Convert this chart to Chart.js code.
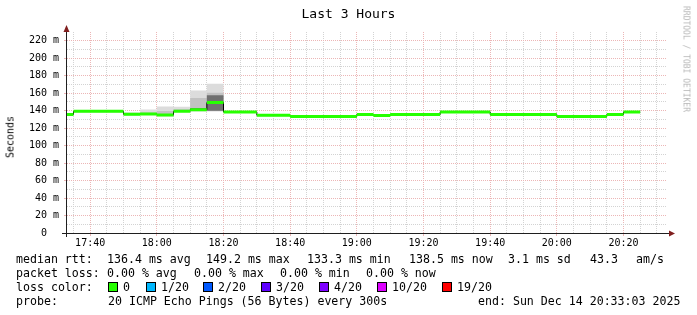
<!DOCTYPE html>
<html>
<head>
<meta charset="utf-8">
<script src="https://cdn.jsdelivr.net/npm/chart.js@4.4.1/dist/chart.umd.min.js"></script>
<style>
  body { margin: 0; background: #fff; }
  #wrap { position: relative; width: 697px; height: 315px; overflow: hidden;
          font-family: 'DejaVu Sans Mono', monospace; color: #000; }
  #wrap canvas { position: absolute; left: 0; top: 0; }
  #title { position: absolute; left: 0; top: 6px; width: 697px; text-align: center; font-size: 13px; }
  #ylab { position: absolute; left: 10px; top: 137px; font-size: 10px; white-space: nowrap;
          transform: translate(-50%, -50%) rotate(-90deg); }
  #wm { position: absolute; left: 686px; top: 59px; font-size: 8px; color: #b8b8b8; white-space: nowrap;
        transform: translate(-50%, -50%) rotate(90deg); }
  .t { position: absolute; white-space: pre; font-size: 11.6px; line-height: 14px; }
  .box { position: absolute; width: 8px; height: 8px; border: 1px solid #000; }
</style>
</head>
<body>
<div id="wrap">
  <canvas id="rtt" width="697" height="315"></canvas>
  <div id="title">Last 3 Hours</div>
  <div id="ylab">Seconds</div>
  <div id="wm">RRDTOOL / TOBI OETIKER</div>
  <div id="legend"></div>
</div>
<script>
// --- data (5 minute buckets) ---
const bucketTimes = ['17:30', '17:35', '17:40', '17:45', '17:50', '17:55', '18:00', '18:05', '18:10', '18:15',
                     '18:20', '18:25', '18:30', '18:35', '18:40', '18:45', '18:50', '18:55', '19:00', '19:05',
                     '19:10', '19:15', '19:20', '19:25', '19:30', '19:35', '19:40', '19:45', '19:50', '19:55',
                     '20:00', '20:05', '20:10', '20:15', '20:20'];
const medianRtt = [135.6, 139.2, 139.2, 139.2, 135.8, 136.3, 134.9, 139.2, 141.0, 149.2,
                   138.5, 138.5, 134.7, 134.7, 133.4, 133.4, 133.4, 133.4, 135.6, 134.5,
                   135.6, 135.6, 135.6, 138.6, 138.6, 138.6, 135.6, 135.6, 135.6, 135.6,
                   133.4, 133.4, 133.4, 135.6, 138.5];
// smoke: spread of the 20 pings (outer = min..max, mid and core = inner percentiles)
const smokeTop    = [136.6, 140.2, 140.2, 140.2, 137.8, 141.2, 144.8, 144.5, 163.0, 170.8,
                     139.5, 139.5, 135.7, 135.7, 134.4, 134.4, 134.4, 134.4, 136.6, 135.5,
                     136.6, 136.6, 136.6, 139.6, 139.6, 139.6, 136.6, 136.6, 136.6, 136.6,
                     134.4, 134.4, 134.4, 136.6, 139.5];
const smokeBottom = [134.6, 138.2, 138.2, 138.2, 134.5, 135.0, 133.5, 138.5, 139.0, 139.0,
                     137.5, 137.5, 133.7, 133.7, 132.4, 132.4, 132.4, 132.4, 134.6, 133.5,
                     134.6, 134.6, 134.6, 137.6, 137.6, 137.6, 134.6, 134.6, 134.6, 134.6,
                     132.4, 132.4, 132.4, 134.6, 137.5];
const smokeMidTop    = [135.6, 139.2, 139.2, 139.2, 135.8, 138.0, 139.5, 141.5, 154.5, 160.5,
                        138.5, 138.5, 134.7, 134.7, 133.4, 133.4, 133.4, 133.4, 135.6, 134.5,
                        135.6, 135.6, 135.6, 138.6, 138.6, 138.6, 135.6, 135.6, 135.6, 135.6,
                        133.4, 133.4, 133.4, 135.6, 138.5];
const smokeMidBottom = [135.6, 139.2, 139.2, 139.2, 135.8, 135.5, 134.0, 138.5, 139.5, 139.5,
                        138.5, 138.5, 134.7, 134.7, 133.4, 133.4, 133.4, 133.4, 135.6, 134.5,
                        135.6, 135.6, 135.6, 138.6, 138.6, 138.6, 135.6, 135.6, 135.6, 135.6,
                        133.4, 133.4, 133.4, 135.6, 138.5];
const smokeCoreTop    = [135.6, 139.2, 139.2, 139.2, 135.8, 136.3, 134.9, 139.2, 143.0, 157.5,
                         138.5, 138.5, 134.7, 134.7, 133.4, 133.4, 133.4, 133.4, 135.6, 134.5,
                         135.6, 135.6, 135.6, 138.6, 138.6, 138.6, 135.6, 135.6, 135.6, 135.6,
                         133.4, 133.4, 133.4, 135.6, 138.5];
const smokeCoreBottom = [135.6, 139.2, 139.2, 139.2, 135.8, 136.3, 134.9, 139.2, 140.5, 140.0,
                         138.5, 138.5, 134.7, 134.7, 133.4, 133.4, 133.4, 133.4, 135.6, 134.5,
                         135.6, 135.6, 135.6, 138.6, 138.6, 138.6, 135.6, 135.6, 135.6, 135.6,
                         133.4, 133.4, 133.4, 135.6, 138.5];

const yTickValues = [0, 20, 40, 60, 80, 100, 120, 140, 160, 180, 200, 220];
const xTickLabels = ['17:40', '18:00', '18:20', '18:40', '19:00', '19:20', '19:40', '20:00', '20:20'];
const startTime = '17:33:03';
const endTime = '20:33:03';

const rttStats = [['136.4', 'ms avg'], ['149.2', 'ms max'], ['133.3', 'ms min'], ['138.5', 'ms now'], ['3.1', 'ms sd'], ['43.3', ''], ['', 'am/s']];
const lossStats = [['0.00', '% avg'], ['0.00', '% max'], ['0.00', '% min'], ['0.00', '% now']];
const lossLabels = ['0', '1/20', '2/20', '3/20', '4/20', '10/20', '19/20'];
const lossColors = ['#26ff00', '#00b8ff', '#0059ff', '#5e00ff', '#7e00ff', '#dd00ff', '#ff0000'];
const probeText = '20 ICMP Echo Pings (56 Bytes) every 300s';
const endText = 'end: Sun Dec 14 20:33:03 2025';

// --- helpers ---
function toMin(s) {
    const p = s.split(':').map(Number);
    return p[0] * 60 + p[1] + (p[2] || 0) / 60;
}
const STEP = 5;

function stepData(values) {
    const pts = values.map((v, i) => ({ x: toMin(bucketTimes[i]), y: v }));
    pts.push({ x: toMin(bucketTimes[bucketTimes.length - 1]) + STEP, y: values[values.length - 1] });
    return pts;
}
// separate horizontal pieces (no vertical joins) for the coloured median line
function segmentData(values) {
    const pts = [];
    values.forEach((v, i) => {
        const s = toMin(bucketTimes[i]);
        pts.push({ x: s, y: v }, { x: s + STEP, y: v }, { x: s + STEP, y: null });
    });
    return pts;
}

const MINOR = '#d3d3d3';
const MAJOR = '#ecb6b6';
const xMajor = xTickLabels.map(toMin);

function band(values, color, fill) {
    return {
        data: stepData(values),
        stepped: true,
        borderColor: 'transparent',
        borderWidth: 0,
        backgroundColor: color,
        fill: fill ? '-1' : false,
        pointRadius: 0
    };
}

// axis lines and arrows drawn the rrdtool way
const axisArrows = {
    id: 'axisArrows',
    afterDraw(chart) {
        const { ctx, chartArea: a } = chart;
        ctx.save();
        ctx.strokeStyle = '#1f1f1f';
        ctx.lineWidth = 1;
        ctx.beginPath();
        ctx.moveTo(a.left - 0.5, a.bottom + 4);
        ctx.lineTo(a.left - 0.5, a.top - 1);
        ctx.moveTo(a.left - 5, a.bottom + 0.5);
        ctx.lineTo(a.right + 3, a.bottom + 0.5);
        ctx.stroke();
        ctx.fillStyle = '#801f1f';
        ctx.beginPath();
        ctx.moveTo(a.left - 0.5, a.top - 7);
        ctx.lineTo(a.left - 3.5, a.top);
        ctx.lineTo(a.left + 2.5, a.top);
        ctx.closePath();
        ctx.fill();
        ctx.beginPath();
        ctx.moveTo(a.right + 8, a.bottom + 0.5);
        ctx.lineTo(a.right + 2, a.bottom - 2.5);
        ctx.lineTo(a.right + 2, a.bottom + 3.5);
        ctx.closePath();
        ctx.fill();
        ctx.restore();
    }
};

new Chart(document.getElementById('rtt'), {
    type: 'line',
    data: {
        datasets: [
            { data: segmentData(medianRtt), borderColor: lossColors[0], borderWidth: 3, borderCapStyle: 'butt',
              pointRadius: 0, fill: false, spanGaps: false },
            { data: stepData(medianRtt), stepped: true, borderColor: '#000', borderWidth: 1, pointRadius: 0, fill: false },
            band(smokeCoreTop, '#707070', false),
            band(smokeCoreBottom, '#707070', true),
            band(smokeMidTop, '#c2c2c2', false),
            band(smokeMidBottom, '#c2c2c2', true),
            band(smokeTop, '#dcdcdc', false),
            band(smokeBottom, '#dcdcdc', true)
        ]
    },
    options: {
        responsive: false,
        animation: false,
        events: [],
        devicePixelRatio: 1,
        layout: { padding: { left: 0, top: 32, right: 30, bottom: 62 } },
        plugins: { legend: { display: false }, tooltip: { enabled: false } },
        scales: {
            x: {
                type: 'linear',
                min: toMin(startTime),
                max: toMin(endTime),
                afterBuildTicks: s => {
                    const t = [];
                    for (let m = Math.ceil(s.min / STEP) * STEP; m <= s.max; m += STEP) t.push({ value: m });
                    s.ticks = t;
                },
                afterFit: s => { s.height = 20; },
                ticks: {
                    autoSkip: false, maxRotation: 0, padding: 1, color: '#000',
                    font: { family: 'DejaVu Sans Mono', size: 10 },
                    callback: v => {
                        const i = xMajor.indexOf(v);
                        return i >= 0 ? xTickLabels[i] : '';
                    }
                },
                grid: {
                    color: c => (c.tick && xMajor.includes(c.tick.value)) ? MAJOR : MINOR,
                    tickColor: c => (c.tick && xMajor.includes(c.tick.value)) ? MAJOR : 'transparent',
                    tickLength: 3, lineWidth: 1
                },
                border: { display: false, dash: [1, 1] }
            },
            y: {
                type: 'linear',
                min: 0,
                max: 230,
                afterBuildTicks: s => {
                    const t = [];
                    for (let v = 0; v <= 220; v += 10) t.push({ value: v });
                    s.ticks = t;
                },
                afterFit: s => { s.width = 67; },
                ticks: {
                    autoSkip: false, padding: 5, color: '#000',
                    font: { family: 'DejaVu Sans Mono', size: 10 },
                    callback: v => yTickValues.includes(v) ? (v === 0 ? '0  ' : v + ' m') : ''
                },
                grid: {
                    color: c => (c.tick && yTickValues.includes(c.tick.value)) ? MAJOR : MINOR,
                    tickColor: c => (c.tick && yTickValues.includes(c.tick.value)) ? MAJOR : 'transparent',
                    tickLength: 3, lineWidth: 1
                },
                border: { display: false, dash: [1, 1] }
            }
        }
    },
    plugins: [axisArrows]
});

// --- legend below the graph ---
const legend = document.getElementById('legend');
function addText(txt, x, yc) {
    const d = document.createElement('div');
    d.className = 't';
    d.textContent = txt;
    d.style.left = x + 'px';
    d.style.top = (yc - 7) + 'px';
    legend.appendChild(d);
}
const rttX = [107, 206, 307, 409, 508, 590, 636];
addText('median rtt:', 16, 259);
rttStats.forEach((s, i) => addText((s[0] + ' ' + s[1]).trim(), rttX[i], 259));

const lossX = [107, 194, 280, 366];
addText('packet loss:', 16, 273);
lossStats.forEach((s, i) => addText(s[0] + ' ' + s[1], lossX[i], 273));

const boxX = [108, 146, 203, 261, 319, 377, 442];
addText('loss color:', 16, 287);
lossLabels.forEach((l, i) => {
    const b = document.createElement('div');
    b.className = 'box';
    b.style.left = boxX[i] + 'px';
    b.style.top = '282px';
    b.style.background = lossColors[i];
    legend.appendChild(b);
    addText(l, boxX[i] + 15, 287);
});

addText('probe:', 16, 301);
addText(probeText, 108, 301);
addText(endText, 478, 301);
</script>
</body>
</html>
